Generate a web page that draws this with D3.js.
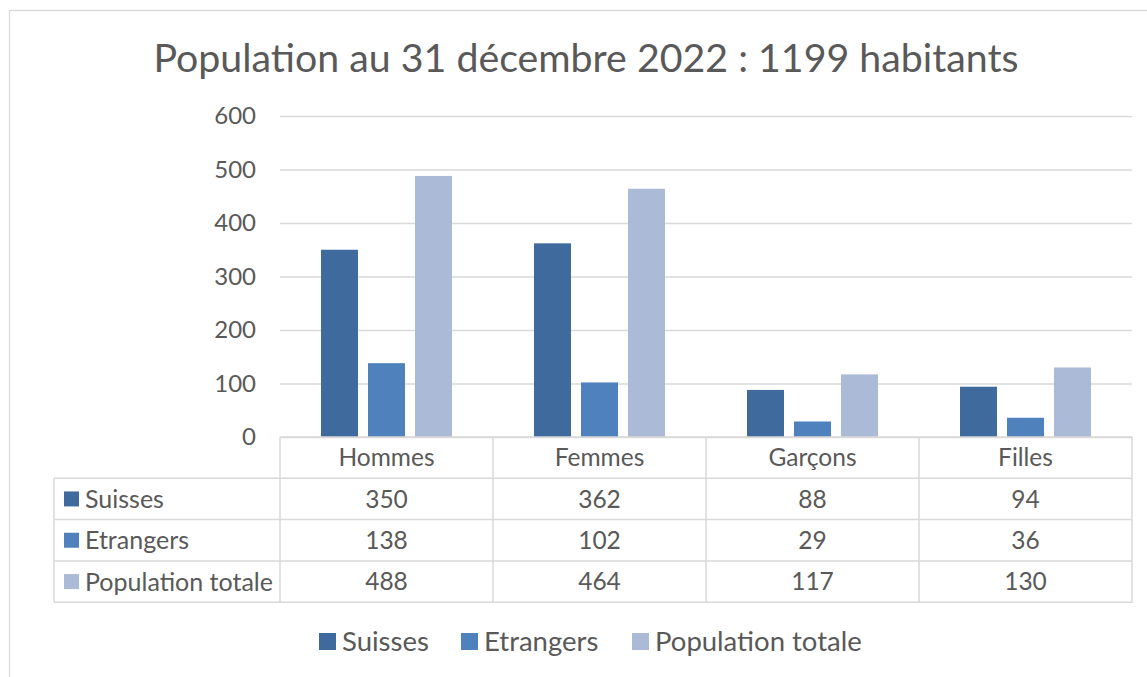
<!DOCTYPE html>
<html>
<head>
<meta charset="utf-8">
<script src="https://cdn.jsdelivr.net/npm/d3@7"></script>
<style>
  body { margin: 0; background: #fff; }
  text { font-family: Lato, "Open Sans", sans-serif; fill: #595959; }
</style>
</head>
<body>
<div id="chart"></div>
<script>
var categories = ["Hommes", "Femmes", "Garçons", "Filles"];
var seriesNames = ["Suisses", "Etrangers", "Population totale"];
var suisses = [350, 362, 88, 94];
var etrangers = [138, 102, 29, 36];
var totale = [488, 464, 117, 130];
var yTicks = [0, 100, 200, 300, 400, 500, 600];
var title = "Population au 31 décembre 2022 : 1199 habitants";

var colors = ["#3f6a9e", "#4f81bd", "#aabad7"];
var gridColor = "#d9d9d9";

var width = 1147, height = 677;
var plot = {left: 280, right: 1132, top: 116, bottom: 437};
var tableLeft = 54;
var rowH = 41.3;

var series = [suisses, etrangers, totale];

var svg = d3.select("#chart").append("svg")
    .attr("width", width)
    .attr("height", height);

// chart frame
svg.append("rect")
    .attr("x", 9.5).attr("y", 10.5)
    .attr("width", width + 20).attr("height", height + 20)
    .attr("fill", "none")
    .attr("stroke", gridColor)
    .attr("stroke-width", 1.3);

svg.append("text")
    .attr("x", 586)
    .attr("y", 72)
    .attr("text-anchor", "middle")
    .style("font-size", "39.3px")
    .text(title);

var x = d3.scaleBand()
    .domain(categories)
    .range([plot.left, plot.right]);

var xs = d3.scaleBand()
    .domain(seriesNames)
    .range([0, x.bandwidth()])
    .paddingInner(0.213)
    .paddingOuter(0.872);

var y = d3.scaleLinear()
    .domain([0, 600])
    .range([plot.bottom, plot.top]);

var yAxis = d3.axisLeft(y)
    .tickValues(yTicks)
    .tickSize(-(plot.right - plot.left))
    .tickPadding(24);

var gy = svg.append("g")
    .attr("transform", "translate(" + plot.left + ",0)")
    .call(yAxis);
gy.select(".domain").remove();
gy.selectAll(".tick line").attr("stroke", gridColor).attr("stroke-width", 1.3);
gy.selectAll(".tick text")
    .style("font-size", "24px")
    .style("font-family", "Lato, sans-serif")
    .attr("fill", "#595959");

// bars
series.forEach(function(vals, si) {
    svg.append("g").selectAll("rect")
        .data(vals)
        .enter().append("rect")
        .attr("x", (d, i) => x(categories[i]) + xs(seriesNames[si]))
        .attr("width", xs.bandwidth())
        .attr("y", d => y(d))
        .attr("height", d => y(0) - y(d))
        .attr("fill", colors[si]);
});

// data table
var tbl = svg.append("g").attr("stroke", gridColor).attr("stroke-width", 1.5).attr("fill", "none");
var tBottom = plot.bottom + rowH * 4;
tbl.append("line").attr("x1", plot.left).attr("x2", plot.right).attr("y1", plot.bottom).attr("y2", plot.bottom);
for (var r = 1; r <= 4; r++) {
    tbl.append("line")
        .attr("x1", tableLeft).attr("x2", plot.right)
        .attr("y1", plot.bottom + rowH * r).attr("y2", plot.bottom + rowH * r);
}
tbl.append("line").attr("x1", tableLeft).attr("x2", tableLeft)
    .attr("y1", plot.bottom + rowH).attr("y2", tBottom);
categories.forEach(function(c) {
    tbl.append("line").attr("x1", x(c)).attr("x2", x(c))
        .attr("y1", plot.bottom).attr("y2", tBottom);
});
tbl.append("line").attr("x1", plot.right).attr("x2", plot.right)
    .attr("y1", plot.bottom).attr("y2", tBottom);

// header
svg.append("g").selectAll("text")
    .data(categories)
    .enter().append("text")
    .attr("x", d => x(d) + x.bandwidth() / 2)
    .attr("y", plot.bottom + rowH / 2)
    .attr("dy", "0.36em")
    .attr("text-anchor", "middle")
    .style("font-size", "24.5px")
    .text(d => d);

series.forEach(function(vals, si) {
    var cy = plot.bottom + rowH * (si + 1) + rowH / 2;
    svg.append("rect")
        .attr("x", 64).attr("y", cy - 7.5)
        .attr("width", 15).attr("height", 15)
        .attr("fill", colors[si]);
    svg.append("text")
        .attr("x", 85).attr("y", cy).attr("dy", "0.36em")
        .style("font-size", "25px")
        .text(seriesNames[si]);
    svg.append("g").selectAll("text")
        .data(vals)
        .enter().append("text")
        .attr("x", (d, i) => x(categories[i]) + x.bandwidth() / 2)
        .attr("y", cy)
        .attr("dy", "0.36em")
        .attr("text-anchor", "middle")
        .style("font-size", "24.5px")
        .text(d => d);
});

// legend
var legendX = [319, 461, 632];
var lg = svg.append("g");
seriesNames.forEach(function(s, i) {
    lg.append("rect")
        .attr("x", legendX[i]).attr("y", 633)
        .attr("width", 17).attr("height", 17)
        .attr("fill", colors[i]);
    lg.append("text")
        .attr("x", legendX[i] + 23).attr("y", 641.5).attr("dy", "0.36em")
        .style("font-size", "27.5px")
        .text(s);
});
</script>
</body>
</html>
